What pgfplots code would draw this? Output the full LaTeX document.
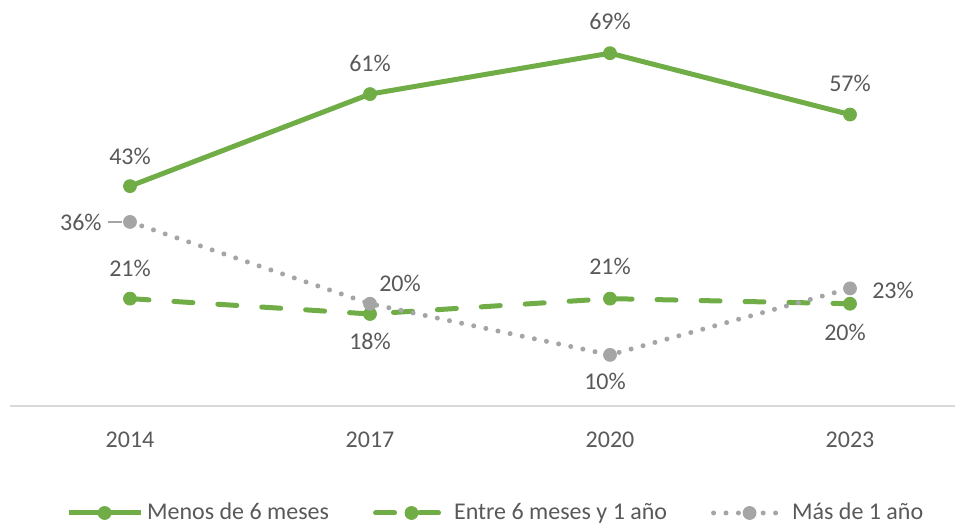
\documentclass[border=0pt]{standalone}
\usepackage{pgfplots}
\pgfplotsset{compat=1.18}
\usepackage{fontspec}
\setmainfont{Carlito}
\definecolor{cgreen}{HTML}{70AD47}
\definecolor{cgrey}{HTML}{A5A5A5}
\definecolor{ctext}{HTML}{595959}
\definecolor{caxis}{HTML}{D9D9D9}
\begin{document}
\begin{tikzpicture}[font=\fontsize{12}{14}\selectfont]
\begin{axis}[
  at={(5pt,59.5pt)}, anchor=south west,
  scale only axis, width=472.5pt, height=203pt,
  xmin=-0.5, xmax=3.4375, ymin=0, ymax=79.4,
  axis x line=bottom, hide y axis,
  x axis line style={-, draw=caxis, line width=0.75pt},
  xtick={0,1,2,3}, xticklabels={2014,2017,2020,2023},
  major tick length=0pt,
  xticklabel style={anchor=base, yshift=-20.5pt, inner sep=0pt, text=ctext, font=\fontsize{12}{14}\selectfont},
  /pgf/number format/assume math mode=true,
  clip=false,
  legend columns=3,
  legend style={at={(0.515,-0.2635)}, anchor=center, draw=none, fill=none,
    font=\fontsize{12}{14}\selectfont, text=ctext,
    /tikz/every even column/.append style={column sep=20pt}},
  legend image code/.code={\draw[mark repeat=2,mark phase=2,#1] plot coordinates {(0pt,0pt)(18pt,0pt)(36pt,0pt)};},
]
\addplot[cgreen, line width=2.5pt, mark=*, mark size=3.2pt, mark options={solid, line width=0.5pt}]
  coordinates {(0,43)(1,61)(2,69)(3,57)};
\addlegendentry{Menos de 6 meses}
\addplot[cgreen, line width=2.5pt, line cap=round, dash pattern=on 9.5pt off 12.5pt, mark=*, mark size=3.2pt, mark options={solid, line width=0.5pt}]
  coordinates {(0,21)(1,18)(2,21)(3,20)};
\addlegendentry{Entre 6 meses y 1 año}
\addplot[cgrey, line width=2.5pt, line cap=round, dash pattern=on 0pt off 6.2pt, mark=*, mark size=3.2pt, mark options={solid, line width=0.5pt}]
  coordinates {(0,36)(1,20)(2,10)(3,23)};
\addlegendentry{Más de 1 año}

\begin{scope}[every node/.style={text=ctext, inner sep=0pt}]
\node[yshift=15pt] at (axis cs:0,43) {43\%};
\node[yshift=15.5pt] at (axis cs:1,61) {61\%};
\node[yshift=16pt] at (axis cs:2,69) {69\%};
\node[yshift=15.5pt] at (axis cs:3,57) {57\%};
\node[anchor=east, xshift=-14pt] at (axis cs:0,36) {36\%};
\node[yshift=15pt] at (axis cs:0,21) {21\%};
\node[xshift=15pt, yshift=10pt] at (axis cs:1,20) {20\%};
\node[yshift=-13.5pt] at (axis cs:1,18) {18\%};
\node[yshift=16pt] at (axis cs:2,21) {21\%};
\node[xshift=-2.5pt, yshift=-13.5pt] at (axis cs:2,10) {10\%};
\node[xshift=21.5pt, yshift=-1pt] at (axis cs:3,23) {23\%};
\node[xshift=-2.5pt, yshift=-14.5pt] at (axis cs:3,20) {20\%};
\end{scope}
\draw[cgrey, line width=0.75pt] (axis cs:-0.0917,36) -- (axis cs:-0.033,36);
\end{axis}
\pgfresetboundingbox
\useasboundingbox (0,0) rectangle (478.5pt,262.5pt);
\end{tikzpicture}
\end{document}
